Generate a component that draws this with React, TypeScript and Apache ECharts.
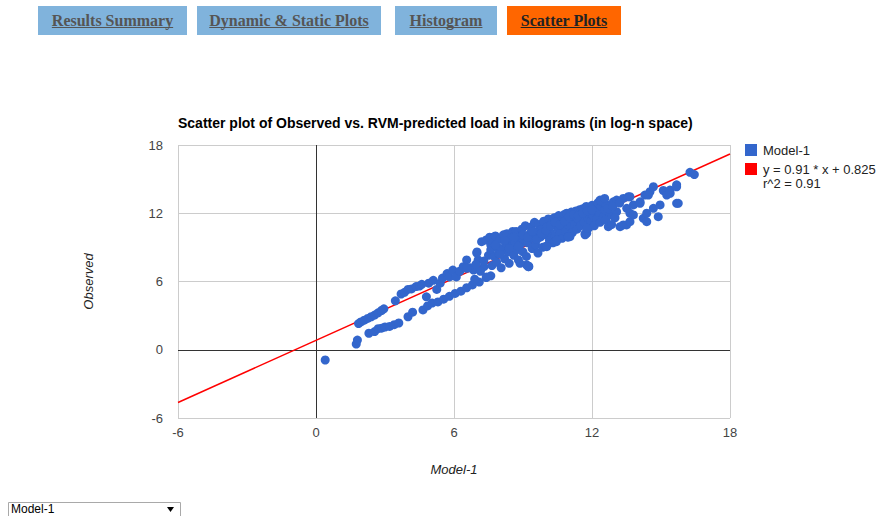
import React, { useEffect, useRef } from "react";
import * as echarts from "echarts";

const chartTitle = "Scatter plot of Observed vs. RVM-predicted load in kilograms (in log-n space)";
const seriesName = "Model-1";
const fitLabel = "y = 0.91 * x + 0.825";
const r2Label = "r^2 = 0.91";
const xAxisName = "Model-1";
const yAxisName = "Observed";
const axisMin = -6;
const axisMax = 18;
const axisStep = 6;
const fitSlope = 0.91;
const fitIntercept = 0.825;
const tabLabels = ["Results Summary", "Dynamic & Static Plots", "Histogram", "Scatter Plots"];
const activeTab = 3;
const dropdownLabel = "Model-1";

// [predicted, observed]
const lowBandPoints: number[][] = [
  [0.4, -0.9], [1.75, 0.5], [1.8, 0.85],
  [1.85, 2.3], [1.95, 2.45], [2.1, 2.6], [2.25, 2.75], [2.4, 2.9], [2.55, 3.05], [2.7, 3.25], [2.85, 3.45], [2.95, 3.6],
  [2.3, 1.45], [2.55, 1.6], [2.7, 1.85], [2.85, 1.9], [3.0, 2.0], [3.2, 2.05], [3.4, 2.2], [3.6, 2.35],
  [4.0, 2.9], [4.2, 3.3], [4.65, 3.5], [4.85, 3.85],
  [5.05, 4.1], [5.3, 4.2], [5.55, 4.45], [5.8, 4.7], [6.05, 4.95], [6.3, 5.15], [6.55, 5.45], [6.8, 5.7], [7.1, 5.95], [7.4, 6.35], [7.6, 6.5],
  [3.45, 4.3], [3.7, 4.9], [3.85, 5.05], [4.0, 5.3], [4.15, 5.35], [4.35, 5.55], [4.5, 5.6], [4.6, 5.75], [4.8, 4.65], [4.9, 5.85],
  [5.1, 6.1], [5.25, 5.3], [5.4, 5.85], [5.5, 6.3], [5.7, 6.7], [5.8, 6.4], [5.95, 7.0], [6.1, 6.4], [6.25, 6.9], [6.4, 7.3],
  [6.55, 7.9], [6.7, 7.2], [6.85, 7.0], [7.0, 8.6], [7.05, 7.9], [7.2, 9.5], [7.3, 7.3], [7.4, 9.65], [7.42, 6.4], [7.5, 8.3],
  [7.6, 9.2], [7.7, 9.9], [6.99, 8.5], [6.55, 7.16], [6.9, 6.2], [7.15, 6.9], [7.3, 7.8], [6.95, 7.5],
];

const coreBandPoints: number[][] = [
  [7.55, 9.9], [7.6, 8.8], [7.65, 7.4], [7.7, 9.4], [7.75, 8.2], [7.8, 10.0], [7.85, 7.7], [7.9, 9.0], [7.95, 8.5], [8.0, 9.7],
  [8.05, 7.2], [8.1, 8.9], [8.15, 10.1], [8.2, 8.0], [8.25, 9.4],
  [8.3, 10.2], [8.35, 8.6], [8.4, 7.6], [8.45, 9.8], [8.5, 9.1], [8.55, 10.4], [8.6, 8.3], [8.65, 9.5], [8.7, 10.4], [8.75, 8.8],
  [8.8, 7.9], [8.85, 9.9], [8.9, 9.3], [8.95, 10.6], [9.0, 8.6], [9.05, 9.7], [9.1, 10.9], [9.15, 8.2], [9.2, 9.4], [9.25, 7.3],
  [9.3, 10.2], [9.35, 10.8], [9.4, 8.9], [9.45, 9.8],
  [9.5, 11.2], [9.55, 9.2], [9.6, 10.4], [9.65, 8.5], [9.7, 11.0], [9.75, 9.9], [9.8, 10.6], [9.85, 9.0], [9.9, 11.3], [9.95, 10.1],
  [10.0, 9.1], [10.05, 10.8], [10.1, 11.5], [10.15, 9.6], [10.2, 10.3], [10.25, 11.1], [10.3, 9.4], [10.35, 11.6], [10.4, 10.0],
  [10.45, 9.5], [10.5, 10.7],
  [10.55, 11.8], [10.6, 10.2], [10.65, 11.3], [10.7, 9.8], [10.75, 10.9], [10.8, 11.9], [10.85, 10.4], [10.9, 12.0], [10.95, 9.9],
  [11.0, 11.4], [11.05, 10.8], [11.1, 12.1], [11.15, 10.3], [11.2, 11.7], [11.25, 11.0], [11.3, 12.2], [11.35, 10.6], [11.4, 11.5],
  [11.45, 12.3], [11.5, 10.9],
  [11.55, 11.9], [11.6, 12.4], [11.65, 11.2], [11.7, 10.2], [11.75, 12.6], [11.8, 11.6], [11.85, 10.7], [11.9, 12.1], [11.95, 11.3],
  [12.0, 12.7], [12.05, 11.8], [12.1, 10.9], [12.15, 12.4], [12.2, 11.5], [12.25, 12.9], [12.3, 12.1], [12.35, 11.2], [12.4, 12.6],
  [12.45, 13.0], [12.5, 11.7], [12.55, 12.3], [12.6, 12.8],
  [7.8, 9.2], [8.0, 8.4], [8.2, 9.6], [8.4, 8.9], [8.6, 9.9], [8.8, 9.1], [9.0, 10.1], [9.2, 9.9], [9.4, 10.4], [9.6, 9.7],
  [9.8, 10.2], [10.0, 10.5], [10.2, 10.9], [10.4, 11.2], [10.6, 11.0], [10.8, 11.3], [11.0, 11.7], [11.2, 11.9], [11.4, 11.8],
  [11.6, 12.0], [11.8, 12.2], [12.0, 12.3],
  [9.16, 7.45], [9.25, 7.35], [10.03, 9.06], [10.4, 9.5], [11.04, 9.94], [11.77, 10.24], [11.7, 10.1], [11.77, 10.7], [10.46, 9.65],
  [10.97, 9.94], [8.87, 7.6], [9.23, 7.3],
];

const highBandPoints: number[][] = [
  [12.35, 13.16], [12.55, 13.3], [12.71, 10.82], [12.8, 11.85], [12.93, 13.0], [13.07, 12.14], [13.07, 13.16], [13.22, 10.82],
  [13.36, 13.3], [13.36, 10.97], [13.5, 10.97], [13.51, 12.43], [13.58, 13.45], [13.65, 13.45], [13.65, 12.0], [13.65, 11.26],
  [13.8, 11.85], [13.8, 12.73], [14.09, 13.0], [14.09, 12.87], [14.23, 11.55], [14.3, 13.6], [14.38, 12.0], [14.38, 11.26],
  [14.45, 13.6], [14.52, 13.9], [14.67, 14.33], [14.67, 12.43], [14.88, 11.7], [14.96, 12.73], [15.1, 14.0], [15.25, 13.6],
  [15.39, 14.04], [15.4, 13.75], [15.68, 14.5], [15.68, 14.33], [15.68, 12.87], [15.75, 12.87], [16.26, 15.6], [16.45, 15.4],
  [12.7, 12.4], [12.9, 12.6], [13.0, 11.6], [13.2, 12.9], [12.6, 11.4], [12.85, 11.0],
];

const observedPoints = [...lowBandPoints, ...coreBandPoints, ...highBandPoints];
const fitLine = [axisMin, axisMax].map((x) => [x, fitSlope * x + fitIntercept]);

function textWidth(text: string, font: string): number {
  const ctx = document.createElement("canvas").getContext("2d");
  if (!ctx) return text.length * 7;
  ctx.font = font;
  return ctx.measureText(text).width;
}

export default function App() {
  const ref = useRef<HTMLDivElement>(null);

  useEffect(() => {
    if (!ref.current) return;
    const chart = echarts.init(ref.current, undefined, { renderer: "svg" });

    const tabBoxes = [
      { x: 38, w: 149 },
      { x: 197, w: 184 },
      { x: 395, w: 102 },
      { x: 507, w: 114 },
    ];
    const tabFont = "bold 16px 'Liberation Serif'";
    const tabGraphics: any[] = [];
    tabLabels.forEach((label, i) => {
      const b = tabBoxes[i];
      const active = i === activeTab;
      const color = active ? "#222222" : "#555555";
      const cx = b.x + b.w / 2;
      const w = textWidth(label, tabFont);
      tabGraphics.push({
        type: "rect",
        shape: { x: b.x, y: 6, width: b.w, height: 29 },
        style: { fill: active ? "#ff6600" : "#80b3dc" },
        silent: true,
      });
      tabGraphics.push({
        type: "text",
        x: cx,
        y: 20,
        style: {
          text: label,
          font: tabFont,
          fill: color,
          align: "center",
          verticalAlign: "middle",
        },
        silent: true,
      });
      tabGraphics.push({
        type: "line",
        shape: { x1: cx - w / 2, y1: 27.5, x2: cx + w / 2, y2: 27.5 },
        style: { stroke: color, lineWidth: 1 },
        silent: true,
      });
    });

    const legendFont = "13px 'Liberation Sans', Arial, sans-serif";
    const legendGraphics: any[] = [
      { type: "rect", shape: { x: 745, y: 144, width: 12, height: 12 }, style: { fill: "#3366cc" }, silent: true },
      { type: "text", x: 763, y: 150, style: { text: seriesName, font: legendFont, fill: "#222222", verticalAlign: "middle" }, silent: true },
      { type: "rect", shape: { x: 745, y: 163, width: 12, height: 12 }, style: { fill: "#ff0000" }, silent: true },
      { type: "text", x: 763, y: 169, style: { text: fitLabel, font: legendFont, fill: "#222222", verticalAlign: "middle" }, silent: true },
      { type: "text", x: 763, y: 183, style: { text: r2Label, font: legendFont, fill: "#222222", verticalAlign: "middle" }, silent: true },
    ];

    const dropdownGraphics: any[] = [
      { type: "rect", shape: { x: 8.5, y: 502.5, width: 172, height: 22 }, style: { fill: "#ffffff", stroke: "#a9a9a9", lineWidth: 1 }, silent: true },
      { type: "text", x: 11, y: 509, style: { text: dropdownLabel, font: "12px 'Liberation Sans', Arial, sans-serif", fill: "#000000", verticalAlign: "middle" }, silent: true },
      { type: "polygon", shape: { points: [[167, 507], [174, 507], [170.5, 512]] }, style: { fill: "#000000" }, silent: true },
    ];

    chart.setOption({
      animation: false,
      backgroundColor: "#ffffff",
      title: {
        text: chartTitle,
        left: 173,
        top: 111,
        textStyle: { fontFamily: "'Liberation Sans', Arial, sans-serif", fontSize: 14, fontWeight: "bold", color: "#000000" },
      },
      grid: { left: 178, top: 145, width: 552, height: 273, containLabel: false },
      xAxis: {
        type: "value",
        min: axisMin,
        max: axisMax,
        interval: axisStep,
        name: xAxisName,
        nameLocation: "middle",
        nameGap: 45,
        nameTextStyle: { fontFamily: "'Liberation Sans', Arial, sans-serif", fontSize: 13, fontStyle: "italic", color: "#222222" },
        axisLine: { show: false },
        axisTick: { show: false },
        axisLabel: { margin: 8, fontFamily: "'Liberation Sans', Arial, sans-serif", fontSize: 13, color: "#444444" },
        splitLine: { show: true, lineStyle: { color: "#cccccc", width: 1 } },
      },
      yAxis: {
        type: "value",
        min: axisMin,
        max: axisMax,
        interval: axisStep,
        name: yAxisName,
        nameLocation: "middle",
        nameGap: 83,
        nameTextStyle: { fontFamily: "'Liberation Sans', Arial, sans-serif", fontSize: 13, fontStyle: "italic", color: "#222222" },
        axisLine: { show: false },
        axisTick: { show: false },
        axisLabel: { margin: 15, fontFamily: "'Liberation Sans', Arial, sans-serif", fontSize: 13, color: "#444444" },
        splitLine: { show: true, lineStyle: { color: "#cccccc", width: 1 } },
      },
      series: [
        {
          name: fitLabel,
          type: "line",
          data: fitLine,
          showSymbol: false,
          symbol: "none",
          z: 2,
          lineStyle: { color: "#ff0000", width: 1.5 },
          silent: true,
          markLine: {
            silent: true,
            symbol: ["none", "none"],
            label: { show: false },
            lineStyle: { color: "#333333", type: "solid", width: 1 },
            data: [{ xAxis: 0 }, { yAxis: 0 }],
            z: 1,
          },
        },
        {
          name: seriesName,
          type: "scatter",
          data: observedPoints,
          symbol: "circle",
          symbolSize: 9,
          z: 3,
          itemStyle: { color: "#3366cc", opacity: 1 },
        },
      ],
      graphic: [...tabGraphics, ...legendGraphics, ...dropdownGraphics],
    });

    return () => chart.dispose();
  }, []);

  return (
    <div
      ref={ref}
      style={{ position: "absolute", left: 0, top: 0, width: 888, height: 516 }}
    />
  );
}
